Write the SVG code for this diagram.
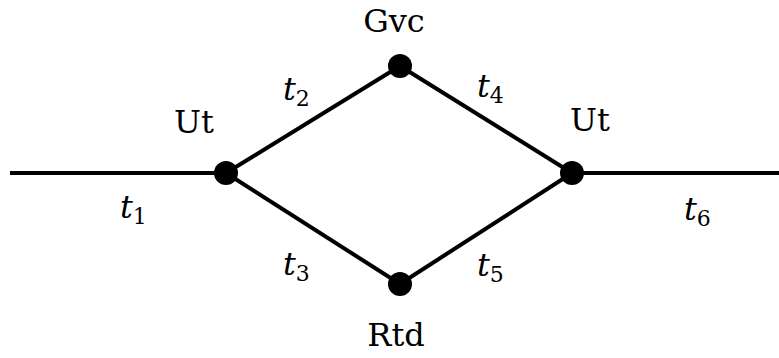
<svg xmlns="http://www.w3.org/2000/svg" width="779" height="358" viewBox="0 0 779 358">
<style>
.e{stroke:#000;stroke-width:4;fill:none}
.n{fill:#000}
.t{font-style:italic}
.s{font-size:22px;font-style:normal}
</style>
<rect width="779" height="358" fill="#fff"/>
<g id="edges">
<line class="e" x1="10" y1="173" x2="226" y2="173"/>
<line class="e" x1="226" y1="173" x2="400" y2="66"/>
<line class="e" x1="226" y1="173" x2="400" y2="284"/>
<line class="e" x1="400" y1="66" x2="572" y2="173"/>
<line class="e" x1="400" y1="284" x2="572" y2="173"/>
<line class="e" x1="572" y1="173" x2="779" y2="173"/>
</g>
<g font-family="'DejaVu Serif', serif" font-size="32" fill="#000">
<g id="node-ut-left"><circle class="n" cx="226" cy="173" r="12"/><text x="194" y="133" text-anchor="middle">Ut</text></g>
<g id="node-gvc"><circle class="n" cx="400" cy="66" r="12"/><text x="394" y="32" text-anchor="middle">Gvc</text></g>
<g id="node-ut-right"><circle class="n" cx="572" cy="173" r="12"/><text x="590" y="131" text-anchor="middle">Ut</text></g>
<g id="node-rtd"><circle class="n" cx="400" cy="284" r="12"/><text x="396" y="346" text-anchor="middle">Rtd</text></g>
<g id="labels">
<text class="t" x="120" y="218">t<tspan class="s" dy="6">1</tspan></text>
<text class="t" x="283" y="100">t<tspan class="s" dy="6">2</tspan></text>
<text class="t" x="283" y="275">t<tspan class="s" dy="6">3</tspan></text>
<text class="t" x="477" y="97">t<tspan class="s" dy="6">4</tspan></text>
<text class="t" x="477" y="276">t<tspan class="s" dy="6">5</tspan></text>
<text class="t" x="684" y="220">t<tspan class="s" dy="6">6</tspan></text>
</g>
</g>
</svg>
